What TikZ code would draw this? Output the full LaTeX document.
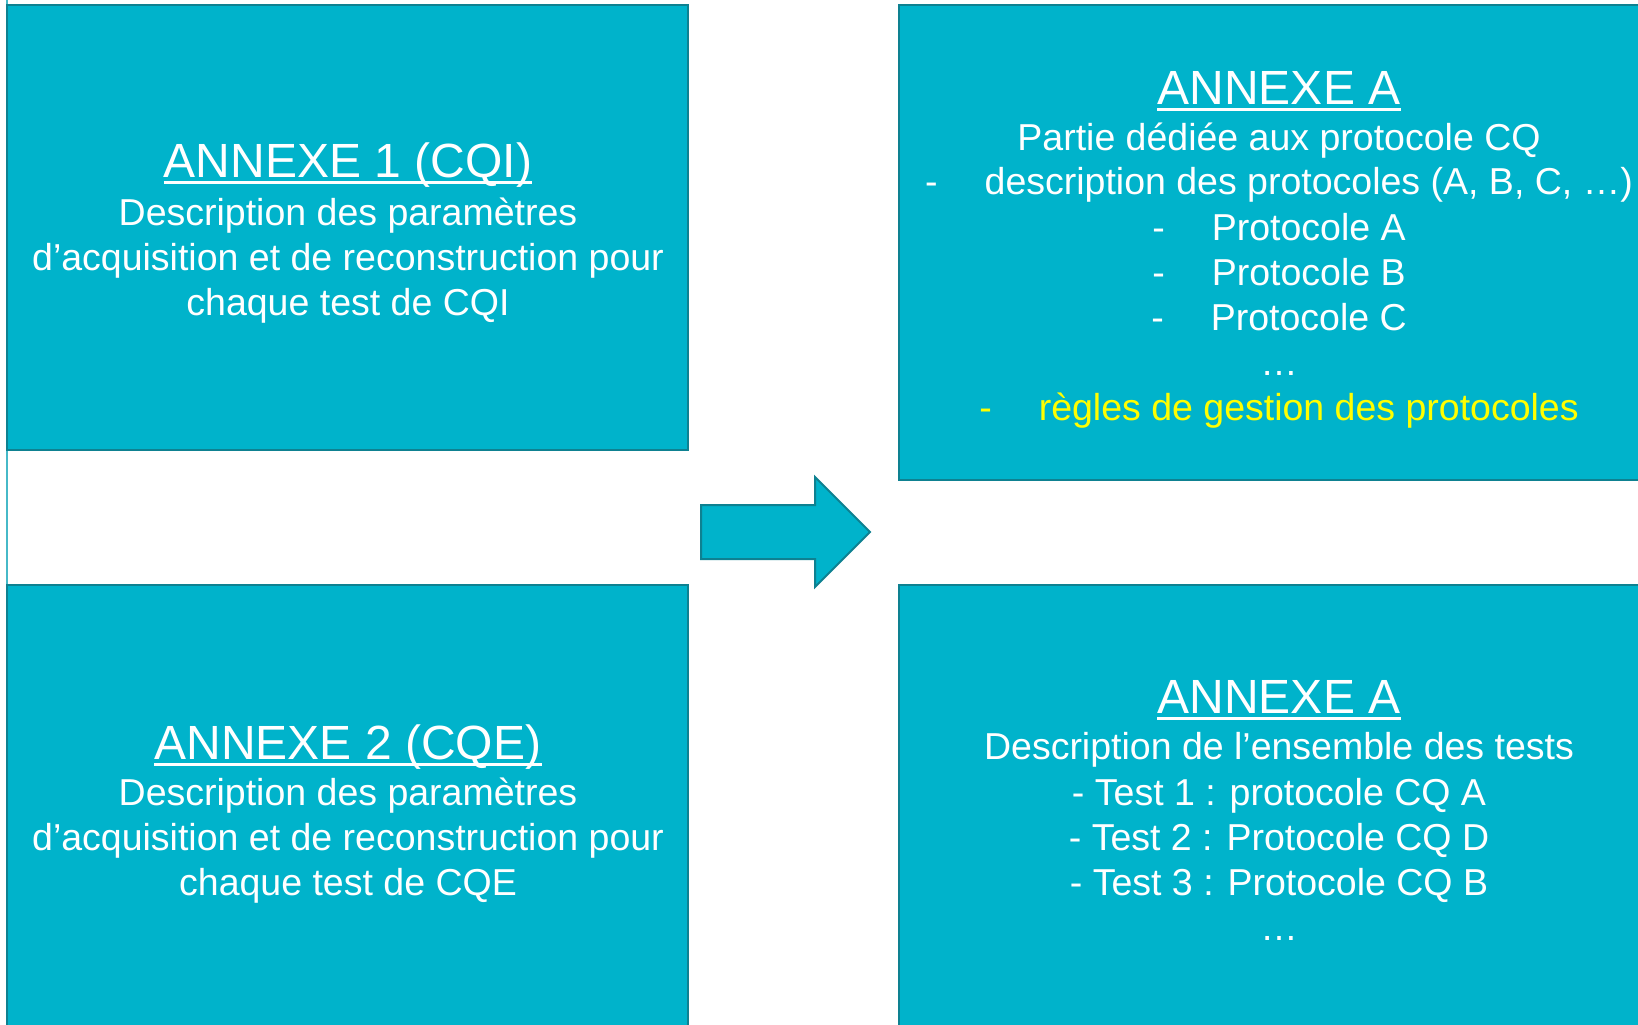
\documentclass[tikz,border=0pt]{standalone}
\usepackage{fontspec}
\setmainfont{Liberation Sans}
\definecolor{panelfill}{RGB}{0,179,203}
\definecolor{paneledge}{RGB}{14,129,145}
\definecolor{edgeline}{RGB}{70,185,200}
\definecolor{hilite}{RGB}{255,255,0}
\begin{document}
\begin{tikzpicture}[x=1pt,y=-1pt,
  panel/.style={draw=paneledge, fill=panelfill, line width=2.5pt, rectangle, inner sep=0pt},
  headtxt/.style={text=white, font=\fontsize{48}{56}\selectfont, inner sep=0pt, anchor=base},
  bodytxt/.style={text=white, font=\fontsize{37.5}{45}\selectfont, inner sep=0pt, anchor=base},
  hl/.style={text=hilite},
  uline/.style={draw=white, line width=3pt},
  bigarrow/.style={draw=paneledge, fill=panelfill, line width=2pt, line join=miter}]
\useasboundingbox (0,0) rectangle (1638,1025);
\clip (0,0) rectangle (1638,1025);
\fill[white] (0,0) rectangle (1638,1025);

% thin rule along the left margin
\coordinate (lt) at (7,0);
\coordinate (lb) at (7,1025);
\draw[edgeline, line width=2pt] (lt) -- (lb);

% the four panels
\node[panel, minimum width=681pt, minimum height=445pt] (p1) at (347.5,227.5) {};
\node[panel, minimum width=681pt, minimum height=455pt] (p2) at (347.5,812.5) {};
\node[panel, minimum width=761pt, minimum height=475pt] (p3) at (1279.5,242.5) {};
\node[panel, minimum width=761pt, minimum height=455pt] (p4) at (1279.5,812.5) {};

% block arrow between the columns
\draw[bigarrow] (701,505) -- (815,505) -- (815,477) -- (870,532)
  -- (815,587) -- (815,559) -- (701,559) -- cycle;

% panel 1
\node[headtxt] (h1) at (348,177) {ANNEXE 1 (CQI)};
\draw[uline] ([yshift=-5.5pt]h1.base west) -- ([yshift=-5.5pt]h1.base east);
\node[bodytxt] (a1) at (348,225) {Description des paramètres};
\node[bodytxt] (a2) at (348,270) {d’acquisition et de reconstruction pour};
\node[bodytxt] (a3) at (348,315) {chaque test de CQI};

% panel 2
\node[headtxt] (h2) at (348,759) {ANNEXE 2 (CQE)};
\draw[uline] ([yshift=-5.5pt]h2.base west) -- ([yshift=-5.5pt]h2.base east);
\node[bodytxt] (c1) at (348,805) {Description des paramètres};
\node[bodytxt] (c2) at (348,850) {d’acquisition et de reconstruction pour};
\node[bodytxt] (c3) at (348,895) {chaque test de CQE};

% panel 3
\node[headtxt] (h3) at (1279,104) {ANNEXE A};
\draw[uline] ([yshift=-5.5pt]h3.base west) -- ([yshift=-5.5pt]h3.base east);
\node[bodytxt] (e1) at (1279,150) {Partie dédiée aux protocole CQ};
\node[bodytxt] (e2) at (1279,194) {-\hspace{47pt}description des protocoles (A, B, C, …)};
\node[bodytxt] (e3) at (1279,240) {-\hspace{47pt}Protocole A};
\node[bodytxt] (e4) at (1279,285) {-\hspace{47pt}Protocole B};
\node[bodytxt] (e5) at (1279,330) {-\hspace{47pt}Protocole C};
\node[bodytxt] (e6) at (1279,375) {…};
\node[bodytxt, hl] (e7) at (1279,420) {-\hspace{47pt}règles de gestion des protocoles};

% panel 4
\node[headtxt] (h4) at (1279,713) {ANNEXE A};
\draw[uline] ([yshift=-5.5pt]h4.base west) -- ([yshift=-5.5pt]h4.base east);
\node[bodytxt] (g1) at (1279,759) {Description de l’ensemble des tests};
\node[bodytxt] (g2) at (1279,805) {- Test 1 : protocole CQ A};
\node[bodytxt] (g3) at (1279,850) {- Test 2 : Protocole CQ D};
\node[bodytxt] (g4) at (1279,895) {- Test 3 : Protocole CQ B};
\node[bodytxt] (g5) at (1279,940) {…};
\end{tikzpicture}
\end{document}
